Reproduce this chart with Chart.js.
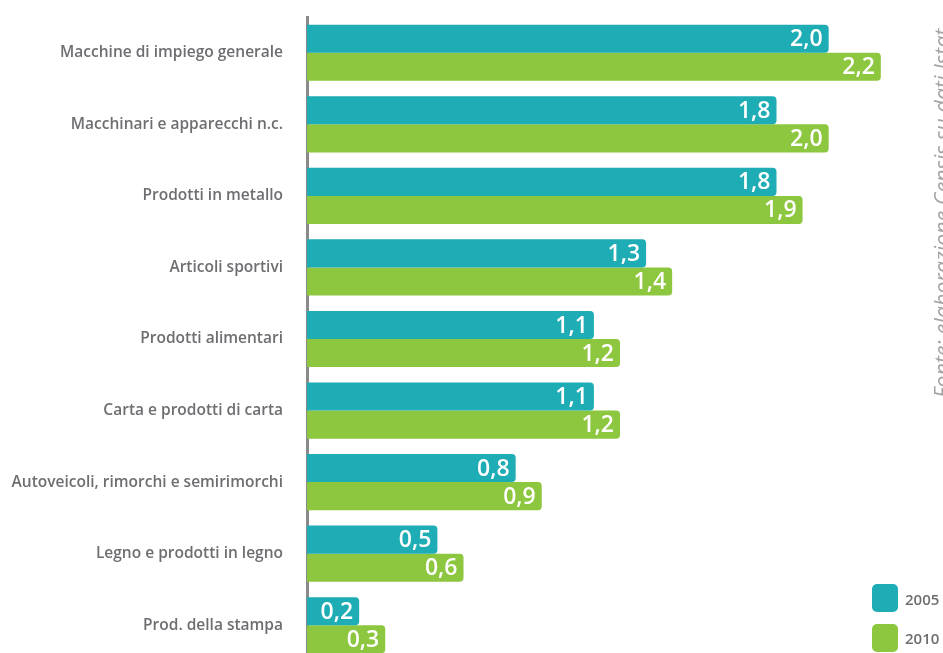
<!DOCTYPE html>
<html>
<head>
<meta charset="utf-8">
<script src="https://cdn.jsdelivr.net/npm/chart.js@4/dist/chart.umd.min.js"></script>
<style>
  html, body { margin: 0; padding: 0; background: #fff; overflow: hidden; }
  #wrap { position: relative; width: 943px; height: 662px; }
  .legend-box { position: absolute; left: 872px; width: 26px; height: 28px; border-radius: 5px; }
  .legend-text { position: absolute; left: 905px; font: 600 15px "Open Sans", sans-serif; color: #6d6e71; }
  #source {
    position: absolute; left: 931px; top: 398px; white-space: nowrap;
    transform-origin: left top; transform: rotate(-90deg);
    font: italic 21.5px "Open Sans", sans-serif; color: #a3a3a3; line-height: 1;
  }
</style>
</head>
<body>
<div id="wrap">
  <canvas id="chart" width="943" height="662"></canvas>
  <div class="legend-box" style="top:584px;background:#1eacb5"></div>
  <div class="legend-text" style="top:589px">2005</div>
  <div class="legend-box" style="top:624px;background:#8dc63f"></div>
  <div class="legend-text" style="top:628px">2010</div>
  <div id="source">Fonte: elaborazione Censis su dati Istat</div>
</div>
<script>
// categories and values (%)
const categories = [
    'Macchine di impiego generale',
    'Macchinari e apparecchi n.c.',
    'Prodotti in metallo',
    'Articoli sportivi',
    'Prodotti alimentari',
    'Carta e prodotti di carta',
    'Autoveicoli, rimorchi e semirimorchi',
    'Legno e prodotti in legno',
    'Prod. della stampa'
];
const values2005 = [2.0, 1.8, 1.8, 1.3, 1.1, 1.1, 0.8, 0.5, 0.2];
const values2010 = [2.2, 2.0, 1.9, 1.4, 1.2, 1.2, 0.9, 0.6, 0.3];

const TEAL = '#1eacb5';
const GREEN = '#8dc63f';

// white value labels at the end of each bar
const barLabels = {
    id: 'barLabels',
    afterDatasetsDraw(chart) {
        const ctx = chart.ctx;
        ctx.save();
        ctx.font = '600 23px "Open Sans", sans-serif';
        ctx.fillStyle = '#fff';
        ctx.textAlign = 'right';
        ctx.textBaseline = 'middle';
        chart.data.datasets.forEach((ds, i) => {
            chart.getDatasetMeta(i).data.forEach((bar, j) => {
                const txt = ds.data[j].toFixed(1).replace('.', ',');
                ctx.fillText(txt, bar.x - 6, bar.y + 1);
            });
        });
        ctx.restore();
    }
};

new Chart(document.getElementById('chart').getContext('2d'), {
    type: 'bar',
    data: {
        labels: categories,
        datasets: [
            { label: '2005', data: values2005, backgroundColor: TEAL },
            { label: '2010', data: values2010, backgroundColor: GREEN }
        ]
    },
    options: {
        indexAxis: 'y',
        responsive: false,
        animation: false,
        layout: { padding: { top: 17, right: 10, bottom: 1, left: 0 } },
        datasets: {
            bar: {
                barPercentage: 1,
                categoryPercentage: 0.785,
                borderRadius: { topRight: 4, bottomRight: 4 },
                borderSkipped: 'start'
            }
        },
        scales: {
            x: { display: false, min: 0, max: 2.4 },
            y: {
                afterFit(scale) {
                    scale.width = 307;
                    scale.paddingTop = 0;
                    scale.paddingBottom = 0;
                },
                grid: { display: false, drawTicks: false },
                border: { display: true, color: '#8a8a8a', width: 3 },
                ticks: {
                    padding: 24,
                    color: '#6d6e71',
                    font: { family: '"Open Sans", sans-serif', size: 15.5, weight: '600' }
                }
            }
        },
        plugins: {
            legend: { display: false },
            tooltip: { enabled: false }
        }
    },
    plugins: [barLabels]
});
</script>
</body>
</html>
